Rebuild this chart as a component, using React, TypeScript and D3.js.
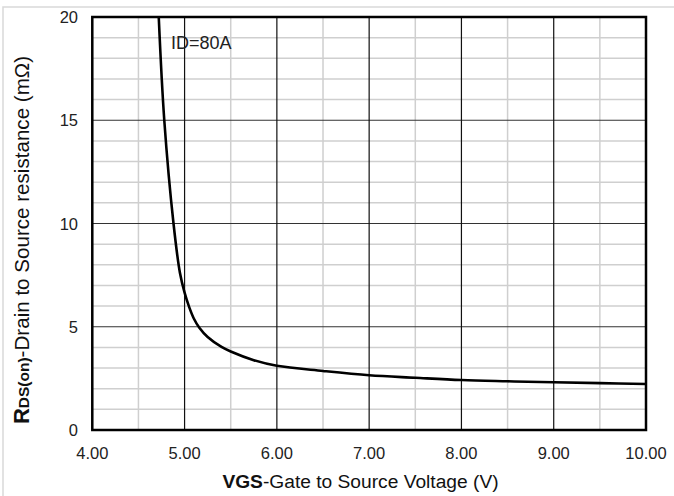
import React from "react";
import * as d3 from "d3";

const vgs = [4.72, 4.78, 4.88, 4.95, 5.0, 5.05, 5.1, 5.16, 5.25, 5.4, 5.5, 5.75, 6.0, 6.5, 7.0, 7.5, 8.0, 8.5, 9.0, 9.5, 10.0];
const rds = [20, 15, 10, 7.6, 6.65, 5.95, 5.4, 4.95, 4.5, 4.02, 3.8, 3.38, 3.11, 2.86, 2.65, 2.53, 2.42, 2.36, 2.31, 2.27, 2.23];
const xTicks = [4, 5, 6, 7, 8, 9, 10];
const xMinor = [4.5, 5.5, 6.5, 7.5, 8.5, 9.5];
const yTicks = [0, 5, 10, 15, 20];
const yMinor = [1, 2, 3, 4, 6, 7, 8, 9, 11, 12, 13, 14, 16, 17, 18, 19];
const annotation = "ID=80A";

const W = 674, H = 496;
const L = 92.3, R = 646, T = 17, B = 430;
const font = "Arial, 'Liberation Sans', sans-serif";

export default function App() {
  const x = d3.scaleLinear().domain([4, 10]).range([L, R]);
  const y = d3.scaleLinear().domain([0, 20]).range([B, T]);
  const pts = vgs.map((v, i) => [v, rds[i]] as [number, number]);
  const line = d3.line<[number, number]>().x(d => x(d[0])).y(d => y(d[1])).curve(d3.curveCatmullRom.alpha(0.5));
  return (
    <svg width={W} height={H} style={{ position: "absolute", left: 0, top: 0, background: "#fff" }} fontFamily={font}>
      <rect x={3} y={7} width={W + 20} height={H + 20} fill="#fff" stroke="#d9d9d9" strokeWidth={1.5} />
      <defs>
        <clipPath id="plot"><rect x={L} y={T} width={R - L} height={B - T} /></clipPath>
      </defs>
      {yMinor.map(v => (
        <line key={"ym" + v} x1={L} x2={R} y1={y(v)} y2={y(v)} stroke="#cfcfcf" strokeWidth={1.5} />
      ))}
      {xMinor.map(v => (
        <line key={"xm" + v} x1={x(v)} x2={x(v)} y1={T} y2={B} stroke="#cfcfcf" strokeWidth={1.5} />
      ))}
      {yTicks.map(v => (
        <line key={"yM" + v} x1={L} x2={R} y1={y(v)} y2={y(v)} stroke="#333" strokeWidth={1.2} />
      ))}
      {xTicks.map(v => (
        <line key={"xM" + v} x1={x(v)} x2={x(v)} y1={T} y2={B} stroke="#111" strokeWidth={1.2} />
      ))}
      <path d={line(pts) || ""} fill="none" stroke="#000" strokeWidth={2.6} clipPath="url(#plot)" />
      <rect x={L} y={T} width={R - L} height={B - T} fill="none" stroke="#000" strokeWidth={2.5} />
      {xTicks.map(v => (
        <text key={"xl" + v} x={x(v)} y={459} textAnchor="middle" fontSize={16.5} fill="#222">{d3.format(".2f")(v)}</text>
      ))}
      {yTicks.map(v => (
        <text key={"yl" + v} x={78} y={y(v) + 6} textAnchor="end" fontSize={16.5} fill="#222">{v}</text>
      ))}
      <text x={171} y={48.5} fontSize={18} fill="#222">{annotation}</text>
      <text x={360.5} y={488} textAnchor="middle" fontSize={19.2} fill="#111">
        <tspan fontWeight="bold">VGS</tspan><tspan>-Gate to Source Voltage (V)</tspan>
      </text>
      <text transform={`translate(29,240) rotate(-90)`} textAnchor="middle" fontSize={20.6} fill="#111">
        <tspan fontWeight="bold" fontSize={22}>R</tspan><tspan fontWeight="bold" fontSize={15.5}>DS(on)</tspan><tspan>-Drain to Source resistance (mΩ)</tspan>
      </text>
    </svg>
  );
}
